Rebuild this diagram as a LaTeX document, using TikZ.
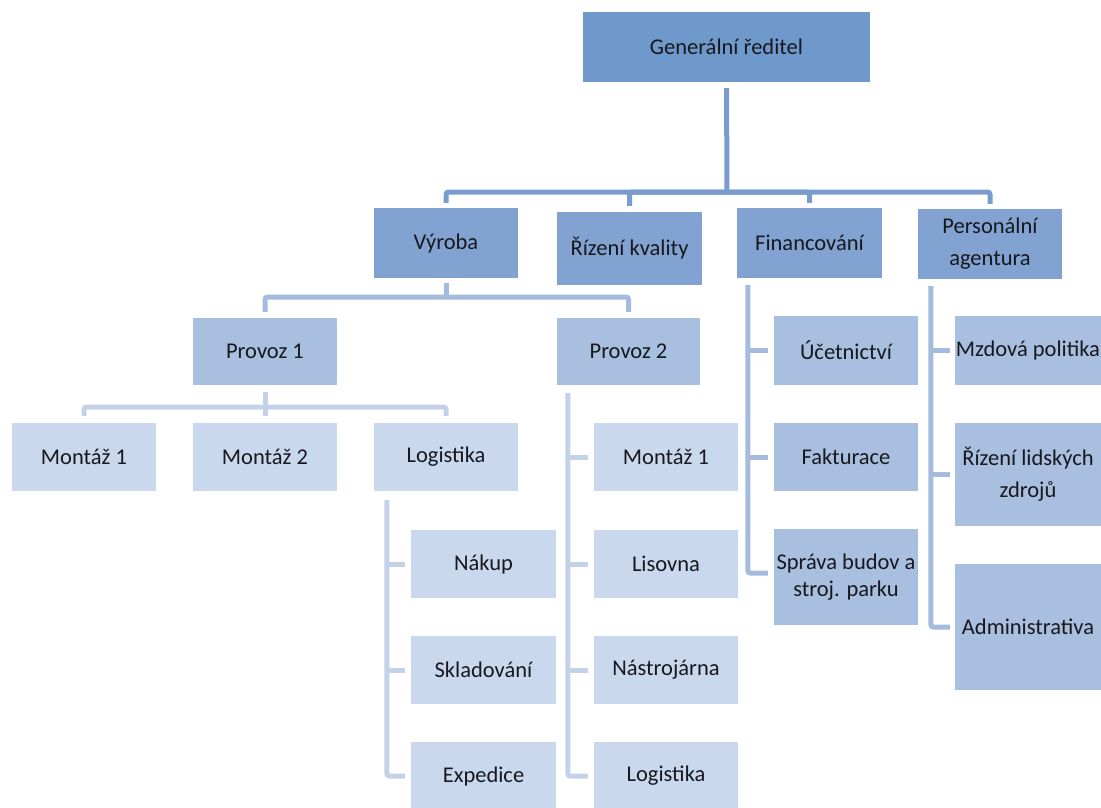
\documentclass[tikz,border=0pt]{standalone}
\usepackage{fontspec}
\setmainfont{Carlito}
\definecolor{topfill}{HTML}{7099CB}
\definecolor{lvtwo}{HTML}{82A3D1}
\definecolor{midfill}{HTML}{A8BFDF}
\definecolor{leaffill}{HTML}{C9D8EC}
\definecolor{conA}{HTML}{7A9CCC}
\definecolor{conB}{HTML}{A5BBDD}
\definecolor{conC}{HTML}{C4D2E9}
\definecolor{txt}{HTML}{18181F}
\begin{document}
\begin{tikzpicture}[x=1pt,y=-1pt,
  box/.style={rectangle, inner sep=0pt, align=center, text=txt,
    font=\fontsize{22.5}{32}\selectfont},
  topbox/.style={box, fill=topfill},
  lvbox/.style={box, fill=lvtwo},
  midbox/.style={box, fill=midfill},
  leafbox/.style={box, fill=leaffill},
  sz/.style 2 args={minimum width=#1pt, minimum height=#2pt},
  conn/.style={line width=5pt, rounded corners=2.5pt},
  ca/.style={conn, draw=conA},
  cb/.style={conn, draw=conB},
  cc/.style={conn, draw=conC}]
\useasboundingbox (0,0) rectangle (1101,807);
% nodes
\node[topbox, sz={287}{70}] (gr) at (726.5,47) {Generální ředitel};
\node[lvbox, sz={144}{70}] (vyr) at (446,243) {Výroba};
\node[lvbox, sz={145}{73}] (rk) at (629.5,248.5) {Řízení kvality};
\node[lvbox, sz={145}{70}] (fin) at (809.5,243) {Financování};
\node[lvbox, sz={144}{70}] (pa) at (990,244) {Personální\\agentura};
\node[midbox, sz={144}{67}] (p1) at (265,351.5) {Provoz 1};
\node[midbox, sz={143}{67}] (p2) at (628.5,351.5) {Provoz 2};
\node[leafbox, sz={144}{68}] (m1) at (84,457) {Montáž 1};
\node[leafbox, sz={144}{68}] (m2) at (265,457) {Montáž 2};
\node[leafbox, sz={144}{68}] (log1) at (446,457) {Logistika};
\node[leafbox, sz={145}{68}] (nak) at (483.5,564) {Nákup};
\node[leafbox, sz={145}{68}] (skl) at (483.5,670) {Skladování};
\node[leafbox, sz={145}{68}] (exp) at (483.5,776) {Expedice};
\node[leafbox, sz={144}{68}] (pm1) at (666,457) {Montáž 1};
\node[leafbox, sz={144}{68}] (lis) at (666,564) {Lisovna};
\node[leafbox, sz={144}{68}] (nas) at (666,670) {Nástrojárna};
\node[leafbox, sz={144}{68}] (log2) at (666,776) {Logistika};
\node[midbox, sz={144}{69}] (uc) at (846,350.5) {Účetnictví};
\node[midbox, sz={144}{68}] (fak) at (846,457) {Fakturace};
\node[midbox, sz={144}{96}, font=\fontsize{22.5}{27}\selectfont] (spr) at (846,577) {Správa budov a\\stroj. parku};
\node[midbox, sz={146}{69}] (mzd) at (1028,350.5) {Mzdová politika};
\node[midbox, sz={146}{103}] (rlz) at (1028,474.5) {Řízení lidských\\zdrojů};
\node[midbox, sz={146}{126}] (adm) at (1028,627) {Administrativa};
% bus points
\coordinate (t1) at (727,192);
\coordinate (t2) at (446,297);
\coordinate (t3) at (265,407);
\coordinate (v1) at ([xshift=13pt,yshift=-9pt]log1.south west);
\coordinate (v2) at ([xshift=11pt,yshift=-8pt]p2.south west);
\coordinate (v3) at ([xshift=11pt,yshift=-7pt]fin.south west);
\coordinate (v4) at ([xshift=13pt,yshift=-7pt]pa.south west);
% top level
\draw[ca, shorten <=6pt] (gr.south) -- (t1);
\draw[ca, shorten >=5pt] (t1) -| (vyr.north);
\draw[ca, shorten >=6pt] (t1) -| (rk.north);
\draw[ca, shorten >=5pt] (t1) -| (fin.north);
\draw[ca, shorten >=5pt] (t1) -| (pa.north);
% Vyroba
\draw[cb, shorten <=5pt] (vyr.south) -- (t2);
\draw[cb, shorten >=6pt] (t2) -| (p1.north);
\draw[cb, shorten >=6pt] (t2) -| (p2.north);
% Provoz 1
\draw[cc, shorten <=7pt] (p1.south) -- (t3);
\draw[cc, shorten >=7pt] (t3) -| (m1.north);
\draw[cc, shorten >=7pt] (t3) -| (m2.north);
\draw[cc, shorten >=7pt] (t3) -| (log1.north);
% Logistika 1
\draw[cc, shorten >=6pt] (v1) |- (exp.west);
\draw[cc, shorten >=6pt] (v1 |- nak.west) -- (nak.west);
\draw[cc, shorten >=6pt] (v1 |- skl.west) -- (skl.west);
% Provoz 2
\draw[cc, shorten >=6pt] (v2) |- (log2.west);
\draw[cc, shorten >=6pt] (v2 |- pm1.west) -- (pm1.west);
\draw[cc, shorten >=6pt] (v2 |- lis.west) -- (lis.west);
\draw[cc, shorten >=6pt] (v2 |- nas.west) -- (nas.west);
% Financovani
\draw[cb, shorten >=6pt] (v3) |- ([yshift=4pt]spr.west);
\draw[cb, shorten >=6pt] (v3 |- uc.west) -- (uc.west);
\draw[cb, shorten >=6pt] (v3 |- fak.west) -- (fak.west);
% Personalni agentura
\draw[cb, shorten >=5pt] (v4) |- (adm.west);
\draw[cb, shorten >=5pt] (v4 |- mzd.west) -- (mzd.west);
\draw[cb, shorten >=5pt] (v4 |- rlz.west) -- (rlz.west);
\end{tikzpicture}
\end{document}
